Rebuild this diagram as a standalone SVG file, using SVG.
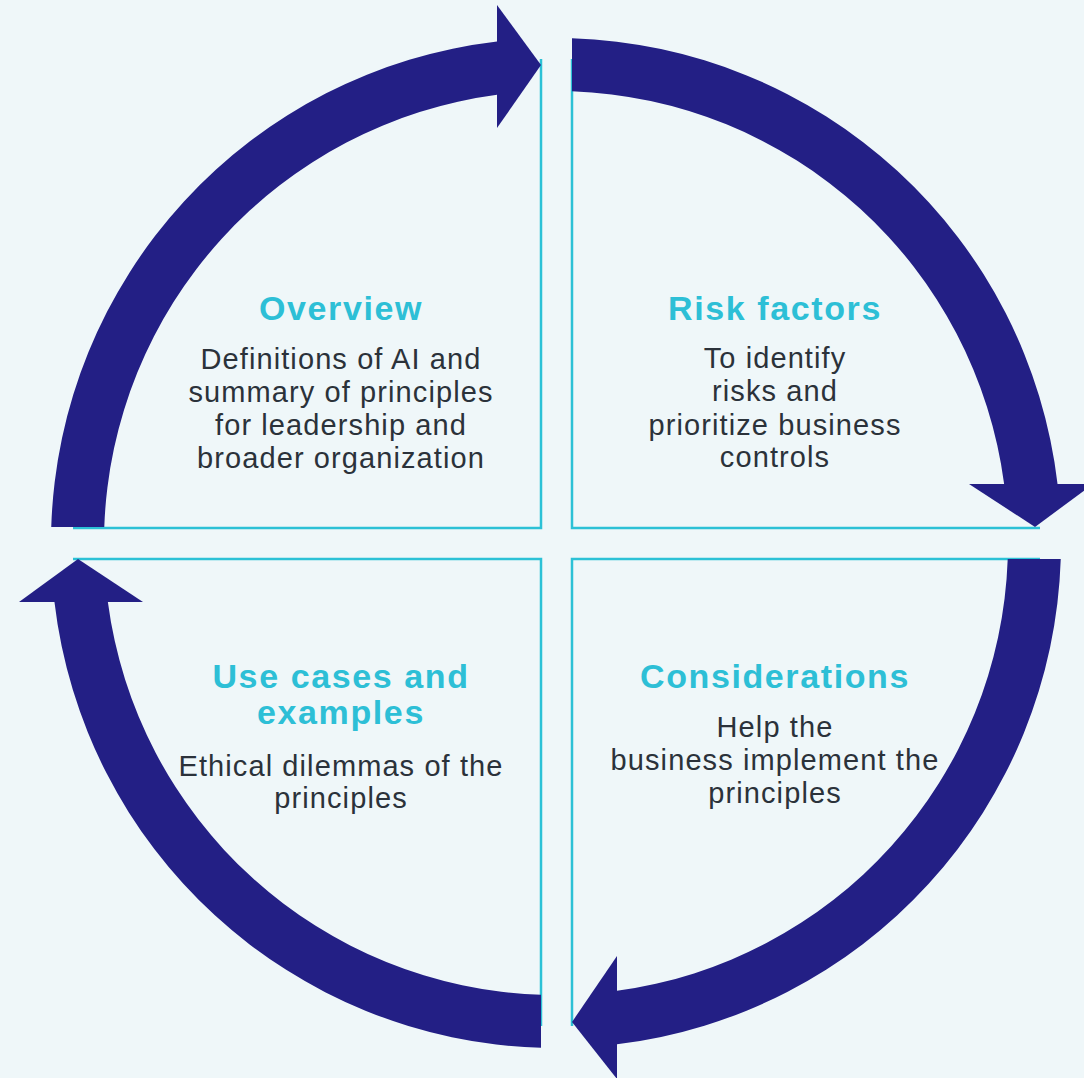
<svg xmlns="http://www.w3.org/2000/svg" width="1084" height="1078" viewBox="0 0 1084 1078">
<style>
.bg{fill:#eff7f9}
.qline{fill:none;stroke:#2cc1d6;stroke-width:2.5}
.arc{fill:#231f85}
.title{font-family:"Liberation Sans",Arial,sans-serif;font-weight:bold;font-size:34px;fill:#2dbfd6;text-anchor:middle;letter-spacing:1.6px}
.body{font-family:"Liberation Sans",Arial,sans-serif;font-size:29px;fill:#2b323a;text-anchor:middle;letter-spacing:1.1px}
</style>
<rect class="bg" x="0" y="0" width="1084" height="1078"/>
<g id="quadrant-lines">
<path class="qline" d="M541 59 V528 H73"/>
<path class="qline" d="M572 59 V528 H1040"/>
<path class="qline" d="M73 559 H541 V1026"/>
<path class="qline" d="M1040 559 H572 V1026"/>
</g>
<g id="connectors">
<path class="arc" d="M51.25 527 A505 505 0 0 1 497 41.46 L497 94.87 A452 452 0 0 0 104.28 527 Z"/>
<polygon class="arc" points="497,5 497,128 541,65"/>
<path class="arc" d="M572 38.25 A505 505 0 0 1 1057.54 484 L1004.13 484 A452 452 0 0 0 572 91.28 Z"/>
<polygon class="arc" points="969,484 1093,484 1035,527"/>
<path class="arc" d="M1060.75 559 A505 505 0 0 1 617 1044.3 L617 990.87 A452 452 0 0 0 1007.72 559 Z"/>
<polygon class="arc" points="617,956 617,1079 572,1022"/>
<path class="arc" d="M541 1047.78 A505 505 0 0 1 54.46 602 L107.87 602 A452 452 0 0 0 541 994.75 Z"/>
<polygon class="arc" points="19,602 143,602 78,559"/>
</g>
<g id="node-overview">
<text class="title" x="341" y="320">Overview</text>
<text class="body" x="341" y="369">Definitions of AI and</text>
<text class="body" x="341" y="402">summary of principles</text>
<text class="body" x="341" y="435">for leadership and</text>
<text class="body" x="341" y="468">broader organization</text>
</g>
<g id="node-risk-factors">
<text class="title" x="775" y="320">Risk factors</text>
<text class="body" x="775" y="368">To identify</text>
<text class="body" x="775" y="401">risks and</text>
<text class="body" x="775" y="435">prioritize business</text>
<text class="body" x="775" y="467">controls</text>
</g>
<g id="node-use-cases">
<text class="title" x="341" y="688">Use cases and</text>
<text class="title" x="341" y="724">examples</text>
<text class="body" x="341" y="776">Ethical dilemmas of the</text>
<text class="body" x="341" y="808">principles</text>
</g>
<g id="node-considerations">
<text class="title" x="775" y="688">Considerations</text>
<text class="body" x="775" y="737">Help the</text>
<text class="body" x="775" y="770">business implement the</text>
<text class="body" x="775" y="803">principles</text>
</g>
</svg>
